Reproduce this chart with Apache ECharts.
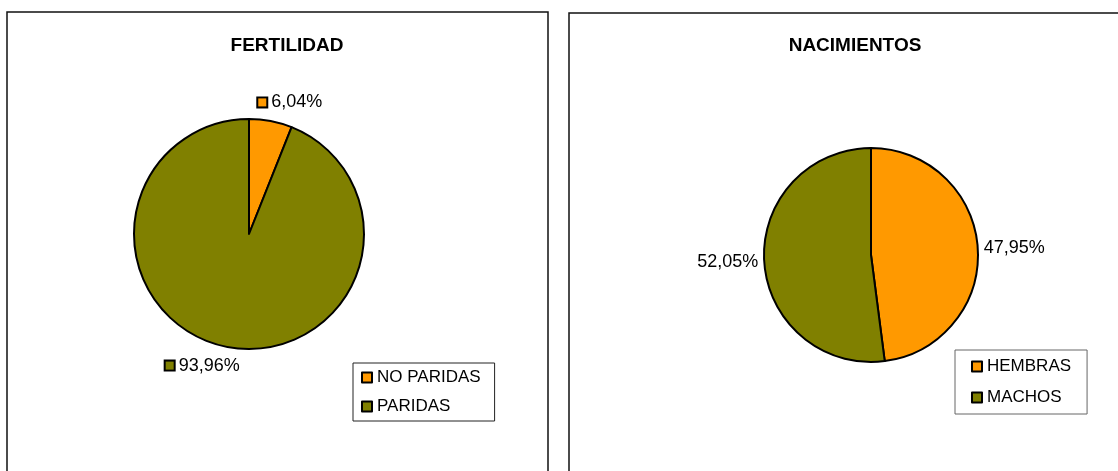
<!DOCTYPE html>
<html>
<head>
<meta charset="utf-8">
<style>
  html, body { margin: 0; padding: 0; background: #fff; }
  #chart { width: 1118px; height: 471px; }
</style>
<script src="https://cdn.jsdelivr.net/npm/echarts@6/dist/echarts.min.js"></script>
</head>
<body>
<div id="chart"></div>
<script>
// datos de los dos graficos
const fertilidadNombres = ['NO PARIDAS', 'PARIDAS'];
const fertilidadValores = [6.04, 93.96];
const nacimientosNombres = ['HEMBRAS', 'MACHOS'];
const nacimientosValores = [47.95, 52.05];
const colores = ['#FF9900', '#808000'];

const FUENTE = "'Liberation Sans', Arial, sans-serif";

// formato 6,04%
function pct(v) {
  return v.toFixed(2).replace('.', ',') + '%';
}

function serieDatos(nombres, valores) {
  return nombres.map((n, i) => ({
    name: n,
    value: valores[i],
    itemStyle: { color: colores[i] }
  }));
}

const chart = echarts.init(document.getElementById('chart'));

// cuadrito de color delante de la etiqueta
const cuadro = (c) => ({
  width: 8, height: 8, backgroundColor: c,
  borderColor: '#000', borderWidth: 2, borderRadius: 0
});

const option = {
  animation: false,
  textStyle: { fontFamily: FUENTE },
  graphic: [
    { type: 'rect', shape: { x: 7, y: 12, width: 541, height: 480 },
      style: { fill: 'none', stroke: '#111', lineWidth: 1.5 }, silent: true },
    { type: 'rect', shape: { x: 569, y: 13, width: 580, height: 480 },
      style: { fill: 'none', stroke: '#111', lineWidth: 1.5 }, silent: true }
  ],
  title: [
    { text: 'FERTILIDAD', left: 282, top: 31, textAlign: 'center',
      textStyle: { fontFamily: FUENTE, fontSize: 19, fontWeight: 'bold', color: '#000' } },
    { text: 'NACIMIENTOS', left: 850, top: 31, textAlign: 'center',
      textStyle: { fontFamily: FUENTE, fontSize: 19, fontWeight: 'bold', color: '#000' } }
  ],
  legend: [
    {
      data: fertilidadNombres,
      orient: 'vertical',
      left: 353, top: 363,
      padding: [6, 14, 6, 8],
      itemGap: 12, itemWidth: 10, itemHeight: 10,
      icon: 'rect',
      itemStyle: { borderColor: '#000', borderWidth: 2 },
      borderColor: '#222', borderWidth: 1,
      textStyle: { fontFamily: FUENTE, fontSize: 17, color: '#000', lineHeight: 17 }
    },
    {
      data: nacimientosNombres,
      orient: 'vertical',
      left: 955, top: 350,
      padding: [8, 16, 8, 16],
      itemGap: 14, itemWidth: 10, itemHeight: 10,
      icon: 'rect',
      itemStyle: { borderColor: '#000', borderWidth: 2 },
      borderColor: '#666', borderWidth: 1,
      textStyle: { fontFamily: FUENTE, fontSize: 17, color: '#000', lineHeight: 17 }
    }
  ],
  series: [
    {
      type: 'pie',
      center: [249, 234],
      radius: 115,
      startAngle: 90,
      clockwise: true,
      data: serieDatos(fertilidadNombres, fertilidadValores),
      itemStyle: { borderColor: '#000', borderWidth: 2 },
      emphasis: { disabled: true },
      label: {
        show: true,
        position: 'outside',
        distanceToLabelLine: -16,
        formatter: (p) => '{c' + p.dataIndex + '|} ' + pct(p.value),
        fontFamily: FUENTE, fontSize: 18, color: '#000',
        rich: { c0: cuadro(colores[0]), c1: cuadro(colores[1]) }
      },
      labelLine: { show: false, length: 19, length2: 0 }
    },
    {
      type: 'pie',
      center: [871, 255],
      radius: 107,
      startAngle: 90,
      clockwise: true,
      data: serieDatos(nacimientosNombres, nacimientosValores),
      itemStyle: { borderColor: '#000', borderWidth: 2 },
      emphasis: { disabled: true },
      label: {
        show: true,
        position: 'outside',
        formatter: (p) => pct(p.value),
        fontFamily: FUENTE, fontSize: 18, color: '#000'
      },
      labelLine: { show: false, length: 1, length2: 0 }
    }
  ]
};

chart.setOption(option);
</script>
</body>
</html>
